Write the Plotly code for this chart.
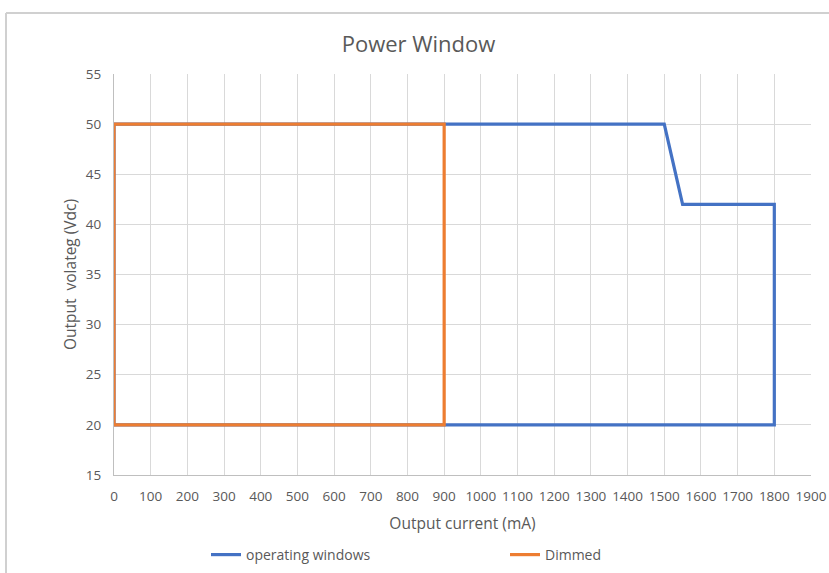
import plotly.graph_objects as go

operating_x = [0, 1500, 1550, 1800, 1800, 0, 0]
operating_y = [50, 50, 42, 42, 20, 20, 50]
dimmed_x = [0, 900, 900, 0, 0]
dimmed_y = [50, 50, 20, 20, 50]
x_ticks = list(range(0, 2000, 100))
y_ticks = list(range(15, 60, 5))

W, H = 829, 573
L, R, T, B = 114, 18, 74, 98
pw, ph = W - L - R, H - T - B

fig = go.Figure()
fig.add_trace(go.Scatter(x=operating_x, y=operating_y, mode="lines", name="operating windows",
                         line=dict(color="#4472C4", width=3.2), legend="legend"))
fig.add_trace(go.Scatter(x=dimmed_x, y=dimmed_y, mode="lines", name="Dimmed",
                         line=dict(color="#ED7D31", width=3.2), legend="legend2"))

font = "Open Sans, Lato, sans-serif"
leg_common = dict(orientation="h", xanchor="left", yanchor="middle", xref="container", yref="container",
                  y=1 - 555 / H, font=dict(size=14, color="#595959", family=font),
                  bgcolor="rgba(0,0,0,0)", itemwidth=30)
fig.update_layout(
    width=W, height=H,
    margin=dict(l=L, r=R, t=T, b=B, autoexpand=False),
    paper_bgcolor="white", plot_bgcolor="white",
    font=dict(family=font, color="#595959", size=13.5),
    title=dict(text="Power Window", x=418.5 / W, xanchor="center", xref="container", y=1 - 44 / H,
               yanchor="middle", font=dict(size=22, color="#595959", family=font)),
    showlegend=True,
    legend=dict(x=206 / W, **leg_common),
    legend2=dict(x=505 / W, **leg_common),
    xaxis=dict(range=[0, 1900], tickvals=x_ticks, ticktext=[str(v) for v in x_ticks],
               showgrid=True, gridcolor="#d9d9d9", gridwidth=1.3, automargin=False,
               showline=True, linecolor="#bfbfbf", linewidth=1.3, zeroline=False,
               ticks="", ticklabelstandoff=9, tickfont=dict(size=13.5),
               title=dict(text="Output current (mA)", font=dict(size=15.5, color="#595959"), standoff=13)),
    yaxis=dict(range=[15, 55], tickvals=y_ticks, automargin=False,
               showgrid=True, gridcolor="#d9d9d9", gridwidth=1.3,
               showline=True, linecolor="#bfbfbf", linewidth=1.3, zeroline=False,
               ticks="", ticklabelstandoff=9, tickfont=dict(size=13.5),
               title=dict(text="Output\u00a0 volateg (Vdc)", font=dict(size=15.5, color="#595959"), standoff=5)),
    shapes=[
        dict(type="line", xref="paper", yref="paper", x0=(6 - L) / pw, x1=(W + 5 - L) / pw,
             y0=(H - B - 13) / ph, y1=(H - B - 13) / ph, line=dict(color="#d0d0d0", width=2)),
        dict(type="line", xref="paper", yref="paper", x0=(6 - L) / pw, x1=(6 - L) / pw,
             y0=(H - B - 13) / ph, y1=(H - B - H - 5) / ph, line=dict(color="#d0d0d0", width=2)),
    ],
)

fig.write_html("out.html", config={"displayModeBar": False},
               post_script="document.body.style.margin='0';document.body.style.overflow='hidden';")
